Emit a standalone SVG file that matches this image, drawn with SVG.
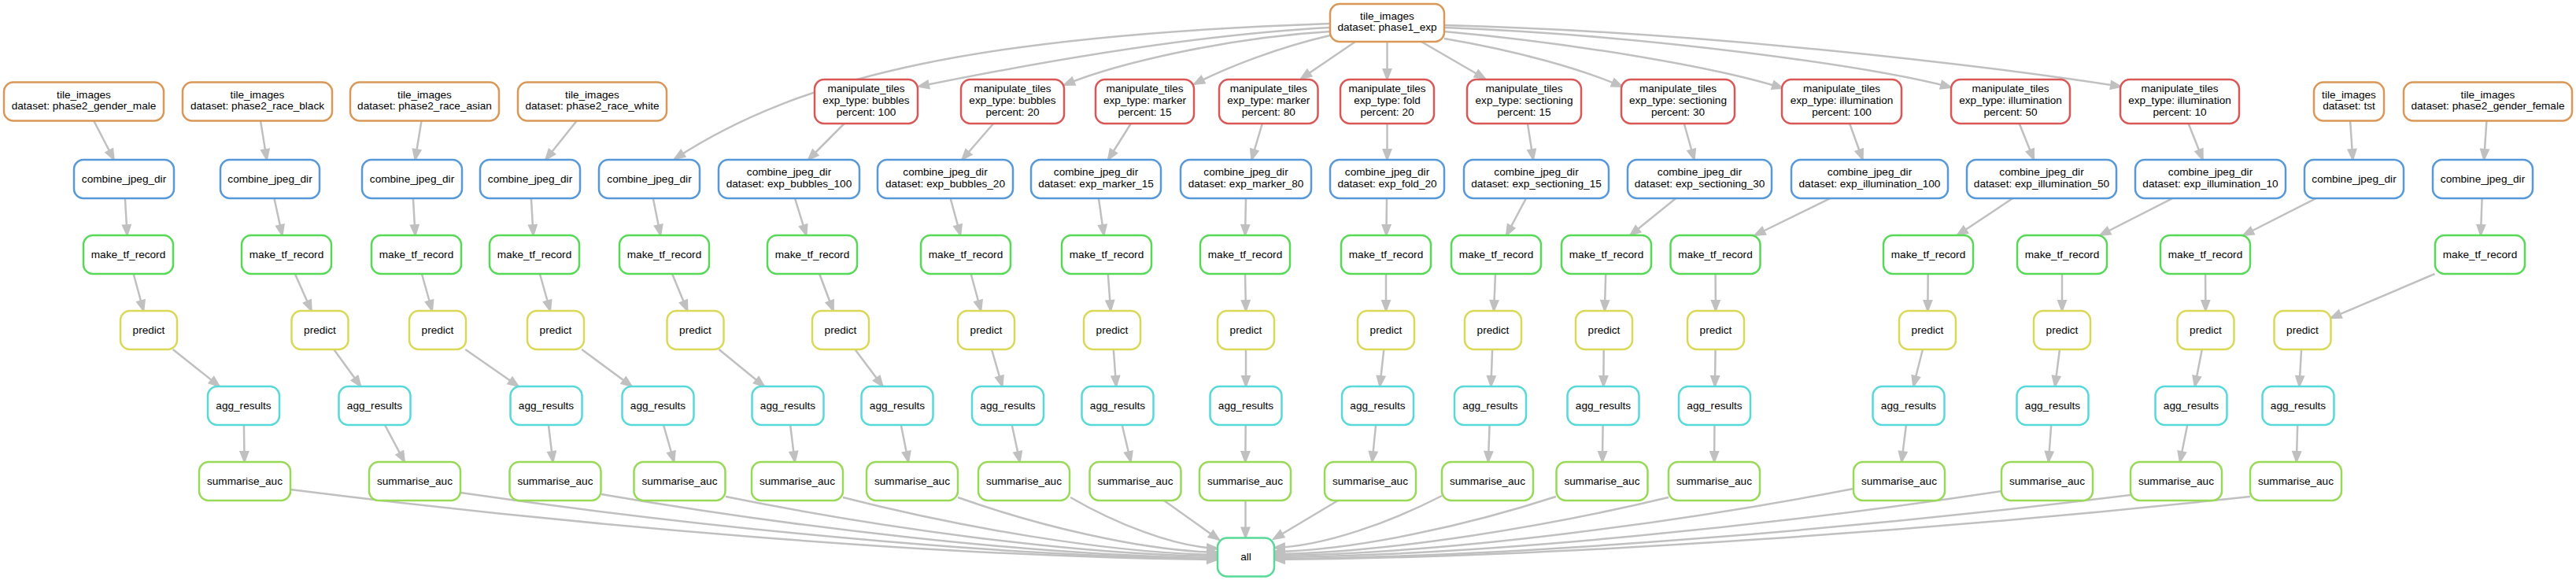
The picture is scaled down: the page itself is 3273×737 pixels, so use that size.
<svg xmlns="http://www.w3.org/2000/svg" width="3273" height="737" viewBox="0 0 3273 737">
<defs>
<style>
.n rect{fill:#fff;stroke-width:2.5}
text{font-family:"Liberation Sans",Arial,sans-serif;font-size:13.6px;text-anchor:middle;fill:#000}
.e path{fill:none;stroke:#c0c0c0;stroke-width:2.5;marker-end:url(#arr)}
.t rect{stroke:#d99857}
.m rect{stroke:#d95757}
.c rect{stroke:#5798d9}
.r rect{stroke:#57d957}
.p rect{stroke:#d9d957}
.g rect{stroke:#57d9d9}
.s rect{stroke:#98d957}
.z rect{stroke:#57d998}
</style>
<marker id="arr" markerUnits="userSpaceOnUse" markerWidth="16" markerHeight="12" refX="13" refY="5" orient="auto" overflow="visible">
<path d="M0,0 L13,5 L0,10 z" fill="#c0c0c0" stroke="#c0c0c0" stroke-width="2"/>
</marker>
</defs>
<rect width="3273" height="737" fill="#fff"/>
<g id="edges" class="e">
<path d="M1690,30 C1250,45 1020,95 857,202"/>
<path d="M1690,35 C1500,45 1290,85 1167,110"/>
<path d="M1690,40 C1560,48 1420,80 1352,108"/>
<path d="M1690,45 C1625,60 1560,85 1517,107"/>
<path d="M1722,53 L1653,100"/>
<path d="M1762.5,53 L1762.5,101"/>
<path d="M1806,53 L1887,100"/>
<path d="M1835,49 C1930,65 2010,88 2061,110"/>
<path d="M1835,40 C2000,55 2180,85 2265,112"/>
<path d="M1835,35 C2100,45 2380,85 2479,111"/>
<path d="M1835,32 C2150,40 2500,80 2695,110"/>
<path d="M119.2,153.5 L144.8,203"/>
<path d="M331,153.5 L339,203"/>
<path d="M535.5,153.5 L527.5,203"/>
<path d="M732.8,153.5 L693.2,203"/>
<path d="M1072.7,157 L1026.9,203"/>
<path d="M1262.2,157 L1222.3,203"/>
<path d="M1436.9,157 L1407.9,203"/>
<path d="M1603.8,157 L1590.2,203"/>
<path d="M1762.5,157 L1762.5,203"/>
<path d="M1940.9,157 L1948.1,203"/>
<path d="M2139.8,157 L2152.7,203"/>
<path d="M2350.1,157 L2366.7,203"/>
<path d="M2565.7,157 L2584.2,203"/>
<path d="M2780.6,157 L2798.8,203"/>
<path d="M2986.1,153.5 L2989.4,203"/>
<path d="M3159.4,153.5 L3156.1,203"/>
<path d="M158.9,252 L161.6,299"/>
<path d="M348.4,252 L358.6,299"/>
<path d="M524.9,252 L527.6,299"/>
<path d="M674.9,252 L677.6,299"/>
<path d="M829.8,252 L839.2,299"/>
<path d="M1010,252 L1024.5,299"/>
<path d="M1207.6,252 L1220.4,299"/>
<path d="M1395.9,252 L1402.6,299"/>
<path d="M1583,252 L1582,299"/>
<path d="M1762,252 L1761.4,299"/>
<path d="M1939,252 L1914,299"/>
<path d="M2129.3,252 L2071.2,299"/>
<path d="M2325.5,252 L2229.5,299"/>
<path d="M2557.3,252 L2486.7,299"/>
<path d="M2760.4,252 L2668.1,299"/>
<path d="M2942.8,252 L2850.2,299"/>
<path d="M3153.6,252 L3151.9,299"/>
<path d="M169.6,348 L182.4,395"/>
<path d="M374.8,348 L395.7,395"/>
<path d="M535.9,348 L549.1,395"/>
<path d="M685.9,348 L699.1,395"/>
<path d="M854.1,348 L873.4,395"/>
<path d="M1041.2,348 L1058.8,395"/>
<path d="M1233.6,348 L1246.4,395"/>
<path d="M1407.8,348 L1411.2,395"/>
<path d="M1582,348 L1583,395"/>
<path d="M1761,348 L1761,395"/>
<path d="M1900,348 L1898,395"/>
<path d="M2040.2,348 L2038.8,395"/>
<path d="M2179.6,348 L2179.9,395"/>
<path d="M2449.7,348 L2449.3,395"/>
<path d="M2620,348 L2620,395"/>
<path d="M2802.1,348 L2802.4,395"/>
<path d="M3093.5,348 L2961.5,404.2"/>
<path d="M219.7,444 L278.8,491"/>
<path d="M424.2,444 L458.3,491"/>
<path d="M591.2,444 L658.8,491"/>
<path d="M739.2,444 L802.8,491"/>
<path d="M913.5,444 L971,491"/>
<path d="M1086.4,444 L1121.6,491"/>
<path d="M1260,444 L1273.5,491"/>
<path d="M1414.8,444 L1418.2,491"/>
<path d="M1583,444 L1583,491"/>
<path d="M1758.3,444 L1753.2,491"/>
<path d="M1896.1,444 L1894.4,491"/>
<path d="M2037.7,444 L2037.3,491"/>
<path d="M2179.6,444 L2178.9,491"/>
<path d="M2442.9,444 L2431.1,491"/>
<path d="M2617,444 L2611,491"/>
<path d="M2797.8,444 L2788.7,491"/>
<path d="M2924.1,444 L2921.4,491"/>
<path d="M309.9,540 L310.6,587"/>
<path d="M489,540 L514,587"/>
<path d="M696.9,540 L702.6,587"/>
<path d="M843,540 L856.5,587"/>
<path d="M1004.1,540 L1009.9,587"/>
<path d="M1144.8,540 L1154.2,587"/>
<path d="M1285.7,540 L1295.8,587"/>
<path d="M1425.7,540 L1436.8,587"/>
<path d="M1582.7,540 L1582.3,587"/>
<path d="M1748.1,540 L1743.4,587"/>
<path d="M1892.6,540 L1890.9,587"/>
<path d="M2036.6,540 L2035.9,587"/>
<path d="M2178.4,540 L2178.1,587"/>
<path d="M2421.9,540 L2416.1,587"/>
<path d="M2606.2,540 L2602.8,587"/>
<path d="M2779.2,540 L2769.8,587"/>
<path d="M2919.2,540 L2917.8,587"/>
<path d="M369,622 C722,666.5 1194,708.3 1547,711"/>
<path d="M585,626 C873.6,668 1258.4,707.5 1547,710"/>
<path d="M764,628 C998.9,668.5 1312.1,706.6 1547,709"/>
<path d="M922,631 C1109.5,669 1359.5,704.7 1547,707"/>
<path d="M1071,632 C1213.8,668.5 1404.2,702.8 1547,705"/>
<path d="M1217,632 C1316,667 1448,699.9 1547,702"/>
<path d="M1360,632 C1416,664.5 1491,695 1547,697"/>
<path d="M1479,636 L1549,686"/>
<path d="M1582.5,636 L1582.5,683.5"/>
<path d="M1700,636 L1618,685"/>
<path d="M1832,630 C1768,663 1683,694 1619,696"/>
<path d="M1977,631 C1869.6,666 1726.4,698.9 1619,701"/>
<path d="M2120,632 C1969.7,668 1769.3,701.8 1619,704"/>
<path d="M2355,621 C2134.2,663.5 1839.8,703.5 1619,706"/>
<path d="M2543,624 C2265.8,666 1896.2,705.5 1619,708"/>
<path d="M2707,629 C2380.6,669.5 1945.4,707.6 1619,710"/>
<path d="M2859,631 C2487,671 1991,708.6 1619,711"/>
</g>
<g id="tile_phase1_exp" class="n t"><rect x="1690" y="5" width="145" height="48" rx="12"/><text x="1762.5" y="24.6">tile_images<tspan x="1762.5" dy="14.8">dataset: phase1_exp</tspan></text></g>
<g id="tile_phase2_gender_male" class="n t"><rect x="5" y="104.5" width="203" height="49" rx="12"/><text x="106.5" y="124.6">tile_images<tspan x="106.5" dy="14.8">dataset: phase2_gender_male</tspan></text></g>
<g id="tile_phase2_race_black" class="n t"><rect x="232" y="104.5" width="190" height="49" rx="12"/><text x="327" y="124.6">tile_images<tspan x="327" dy="14.8">dataset: phase2_race_black</tspan></text></g>
<g id="tile_phase2_race_asian" class="n t"><rect x="445" y="104.5" width="189" height="49" rx="12"/><text x="539.5" y="124.6">tile_images<tspan x="539.5" dy="14.8">dataset: phase2_race_asian</tspan></text></g>
<g id="tile_phase2_race_white" class="n t"><rect x="658" y="104.5" width="189" height="49" rx="12"/><text x="752.5" y="124.6">tile_images<tspan x="752.5" dy="14.8">dataset: phase2_race_white</tspan></text></g>
<g id="manip_bubbles_100" class="n m"><rect x="1035" y="101" width="131" height="56" rx="12"/><text x="1100.5" y="117.2">manipulate_tiles<tspan x="1100.5" dy="14.8">exp_type: bubbles</tspan><tspan x="1100.5" dy="14.8">percent: 100</tspan></text></g>
<g id="manip_bubbles_20" class="n m"><rect x="1221" y="101" width="131" height="56" rx="12"/><text x="1286.5" y="117.2">manipulate_tiles<tspan x="1286.5" dy="14.8">exp_type: bubbles</tspan><tspan x="1286.5" dy="14.8">percent: 20</tspan></text></g>
<g id="manip_marker_15" class="n m"><rect x="1392" y="101" width="125" height="56" rx="12"/><text x="1454.5" y="117.2">manipulate_tiles<tspan x="1454.5" dy="14.8">exp_type: marker</tspan><tspan x="1454.5" dy="14.8">percent: 15</tspan></text></g>
<g id="manip_marker_80" class="n m"><rect x="1549" y="101" width="125.5" height="56" rx="12"/><text x="1611.8" y="117.2">manipulate_tiles<tspan x="1611.8" dy="14.8">exp_type: marker</tspan><tspan x="1611.8" dy="14.8">percent: 80</tspan></text></g>
<g id="manip_fold_20" class="n m"><rect x="1703" y="101" width="119" height="56" rx="12"/><text x="1762.5" y="117.2">manipulate_tiles<tspan x="1762.5" dy="14.8">exp_type: fold</tspan><tspan x="1762.5" dy="14.8">percent: 20</tspan></text></g>
<g id="manip_sectioning_15" class="n m"><rect x="1864" y="101" width="145" height="56" rx="12"/><text x="1936.5" y="117.2">manipulate_tiles<tspan x="1936.5" dy="14.8">exp_type: sectioning</tspan><tspan x="1936.5" dy="14.8">percent: 15</tspan></text></g>
<g id="manip_sectioning_30" class="n m"><rect x="2060" y="101" width="144" height="56" rx="12"/><text x="2132" y="117.2">manipulate_tiles<tspan x="2132" dy="14.8">exp_type: sectioning</tspan><tspan x="2132" dy="14.8">percent: 30</tspan></text></g>
<g id="manip_illumination_100" class="n m"><rect x="2264" y="101" width="152" height="56" rx="12"/><text x="2340" y="117.2">manipulate_tiles<tspan x="2340" dy="14.8">exp_type: illumination</tspan><tspan x="2340" dy="14.8">percent: 100</tspan></text></g>
<g id="manip_illumination_50" class="n m"><rect x="2479" y="101" width="151" height="56" rx="12"/><text x="2554.5" y="117.2">manipulate_tiles<tspan x="2554.5" dy="14.8">exp_type: illumination</tspan><tspan x="2554.5" dy="14.8">percent: 50</tspan></text></g>
<g id="manip_illumination_10" class="n m"><rect x="2694" y="101" width="151" height="56" rx="12"/><text x="2769.5" y="117.2">manipulate_tiles<tspan x="2769.5" dy="14.8">exp_type: illumination</tspan><tspan x="2769.5" dy="14.8">percent: 10</tspan></text></g>
<g id="tile_tst" class="n t"><rect x="2940" y="104.5" width="89" height="49" rx="12"/><text x="2984.5" y="124.6">tile_images<tspan x="2984.5" dy="14.8">dataset: tst</tspan></text></g>
<g id="tile_phase2_gender_female" class="n t"><rect x="3054" y="104.5" width="214" height="49" rx="12"/><text x="3161" y="124.6">tile_images<tspan x="3161" dy="14.8">dataset: phase2_gender_female</tspan></text></g>
<g id="combine_1" class="n c"><rect x="94" y="203" width="127" height="49" rx="12"/><text x="157.5" y="231.5">combine_jpeg_dir</text></g>
<g id="combine_2" class="n c"><rect x="280" y="203" width="126" height="49" rx="12"/><text x="343" y="231.5">combine_jpeg_dir</text></g>
<g id="combine_3" class="n c"><rect x="460" y="203" width="127" height="49" rx="12"/><text x="523.5" y="231.5">combine_jpeg_dir</text></g>
<g id="combine_4" class="n c"><rect x="610" y="203" width="127" height="49" rx="12"/><text x="673.5" y="231.5">combine_jpeg_dir</text></g>
<g id="combine_5" class="n c"><rect x="761" y="203" width="128" height="49" rx="12"/><text x="825" y="231.5">combine_jpeg_dir</text></g>
<g id="combine_bubbles_100" class="n c"><rect x="913" y="203" width="179" height="49" rx="12"/><text x="1002.5" y="223.1">combine_jpeg_dir<tspan x="1002.5" dy="14.8">dataset: exp_bubbles_100</tspan></text></g>
<g id="combine_bubbles_20" class="n c"><rect x="1115" y="203" width="172" height="49" rx="12"/><text x="1201" y="223.1">combine_jpeg_dir<tspan x="1201" dy="14.8">dataset: exp_bubbles_20</tspan></text></g>
<g id="combine_marker_15" class="n c"><rect x="1310" y="203" width="165" height="49" rx="12"/><text x="1392.5" y="223.1">combine_jpeg_dir<tspan x="1392.5" dy="14.8">dataset: exp_marker_15</tspan></text></g>
<g id="combine_marker_80" class="n c"><rect x="1500" y="203" width="166" height="49" rx="12"/><text x="1583" y="223.1">combine_jpeg_dir<tspan x="1583" dy="14.8">dataset: exp_marker_80</tspan></text></g>
<g id="combine_fold_20" class="n c"><rect x="1690" y="203" width="145" height="49" rx="12"/><text x="1762.5" y="223.1">combine_jpeg_dir<tspan x="1762.5" dy="14.8">dataset: exp_fold_20</tspan></text></g>
<g id="combine_sectioning_15" class="n c"><rect x="1860" y="203" width="184" height="49" rx="12"/><text x="1952" y="223.1">combine_jpeg_dir<tspan x="1952" dy="14.8">dataset: exp_sectioning_15</tspan></text></g>
<g id="combine_sectioning_30" class="n c"><rect x="2068" y="203" width="183" height="49" rx="12"/><text x="2159.5" y="223.1">combine_jpeg_dir<tspan x="2159.5" dy="14.8">dataset: exp_sectioning_30</tspan></text></g>
<g id="combine_illumination_100" class="n c"><rect x="2276" y="203" width="199" height="49" rx="12"/><text x="2375.5" y="223.1">combine_jpeg_dir<tspan x="2375.5" dy="14.8">dataset: exp_illumination_100</tspan></text></g>
<g id="combine_illumination_50" class="n c"><rect x="2499" y="203" width="190" height="49" rx="12"/><text x="2594" y="223.1">combine_jpeg_dir<tspan x="2594" dy="14.8">dataset: exp_illumination_50</tspan></text></g>
<g id="combine_illumination_10" class="n c"><rect x="2713" y="203" width="191" height="49" rx="12"/><text x="2808.5" y="223.1">combine_jpeg_dir<tspan x="2808.5" dy="14.8">dataset: exp_illumination_10</tspan></text></g>
<g id="combine_16" class="n c"><rect x="2928" y="203" width="126" height="49" rx="12"/><text x="2991" y="231.5">combine_jpeg_dir</text></g>
<g id="combine_17" class="n c"><rect x="3091" y="203" width="127" height="49" rx="12"/><text x="3154.5" y="231.5">combine_jpeg_dir</text></g>
<g id="mtf_1" class="n r"><rect x="106" y="299" width="114" height="49" rx="12"/><text x="163" y="327.5">make_tf_record</text></g>
<g id="mtf_2" class="n r"><rect x="307" y="299" width="114" height="49" rx="12"/><text x="364" y="327.5">make_tf_record</text></g>
<g id="mtf_3" class="n r"><rect x="472" y="299" width="114" height="49" rx="12"/><text x="529" y="327.5">make_tf_record</text></g>
<g id="mtf_4" class="n r"><rect x="622" y="299" width="114" height="49" rx="12"/><text x="679" y="327.5">make_tf_record</text></g>
<g id="mtf_5" class="n r"><rect x="787" y="299" width="114" height="49" rx="12"/><text x="844" y="327.5">make_tf_record</text></g>
<g id="mtf_6" class="n r"><rect x="975" y="299" width="114" height="49" rx="12"/><text x="1032" y="327.5">make_tf_record</text></g>
<g id="mtf_7" class="n r"><rect x="1170" y="299" width="114" height="49" rx="12"/><text x="1227" y="327.5">make_tf_record</text></g>
<g id="mtf_8" class="n r"><rect x="1349" y="299" width="114" height="49" rx="12"/><text x="1406" y="327.5">make_tf_record</text></g>
<g id="mtf_9" class="n r"><rect x="1525" y="299" width="114" height="49" rx="12"/><text x="1582" y="327.5">make_tf_record</text></g>
<g id="mtf_10" class="n r"><rect x="1704" y="299" width="114" height="49" rx="12"/><text x="1761" y="327.5">make_tf_record</text></g>
<g id="mtf_11" class="n r"><rect x="1844" y="299" width="114" height="49" rx="12"/><text x="1901" y="327.5">make_tf_record</text></g>
<g id="mtf_12" class="n r"><rect x="1984" y="299" width="114" height="49" rx="12"/><text x="2041" y="327.5">make_tf_record</text></g>
<g id="mtf_13" class="n r"><rect x="2122.5" y="299" width="114" height="49" rx="12"/><text x="2179.5" y="327.5">make_tf_record</text></g>
<g id="mtf_14" class="n r"><rect x="2393" y="299" width="114" height="49" rx="12"/><text x="2450" y="327.5">make_tf_record</text></g>
<g id="mtf_15" class="n r"><rect x="2563" y="299" width="114" height="49" rx="12"/><text x="2620" y="327.5">make_tf_record</text></g>
<g id="mtf_16" class="n r"><rect x="2745" y="299" width="114" height="49" rx="12"/><text x="2802" y="327.5">make_tf_record</text></g>
<g id="mtf_17" class="n r"><rect x="3094" y="299" width="114" height="49" rx="12"/><text x="3151" y="327.5">make_tf_record</text></g>
<g id="predict_1" class="n p"><rect x="153" y="395" width="72" height="49" rx="12"/><text x="189" y="423.5">predict</text></g>
<g id="predict_2" class="n p"><rect x="370.5" y="395" width="72" height="49" rx="12"/><text x="406.5" y="423.5">predict</text></g>
<g id="predict_3" class="n p"><rect x="520" y="395" width="72" height="49" rx="12"/><text x="556" y="423.5">predict</text></g>
<g id="predict_4" class="n p"><rect x="670" y="395" width="72" height="49" rx="12"/><text x="706" y="423.5">predict</text></g>
<g id="predict_5" class="n p"><rect x="847.5" y="395" width="72" height="49" rx="12"/><text x="883.5" y="423.5">predict</text></g>
<g id="predict_6" class="n p"><rect x="1032" y="395" width="72" height="49" rx="12"/><text x="1068" y="423.5">predict</text></g>
<g id="predict_7" class="n p"><rect x="1217" y="395" width="72" height="49" rx="12"/><text x="1253" y="423.5">predict</text></g>
<g id="predict_8" class="n p"><rect x="1377" y="395" width="72" height="49" rx="12"/><text x="1413" y="423.5">predict</text></g>
<g id="predict_9" class="n p"><rect x="1547" y="395" width="72" height="49" rx="12"/><text x="1583" y="423.5">predict</text></g>
<g id="predict_10" class="n p"><rect x="1725" y="395" width="72" height="49" rx="12"/><text x="1761" y="423.5">predict</text></g>
<g id="predict_11" class="n p"><rect x="1861" y="395" width="72" height="49" rx="12"/><text x="1897" y="423.5">predict</text></g>
<g id="predict_12" class="n p"><rect x="2002" y="395" width="72" height="49" rx="12"/><text x="2038" y="423.5">predict</text></g>
<g id="predict_13" class="n p"><rect x="2144" y="395" width="72" height="49" rx="12"/><text x="2180" y="423.5">predict</text></g>
<g id="predict_14" class="n p"><rect x="2413" y="395" width="72" height="49" rx="12"/><text x="2449" y="423.5">predict</text></g>
<g id="predict_15" class="n p"><rect x="2584" y="395" width="72" height="49" rx="12"/><text x="2620" y="423.5">predict</text></g>
<g id="predict_16" class="n p"><rect x="2766.5" y="395" width="72" height="49" rx="12"/><text x="2802.5" y="423.5">predict</text></g>
<g id="predict_17" class="n p"><rect x="2889.5" y="395" width="72" height="49" rx="12"/><text x="2925.5" y="423.5">predict</text></g>
<g id="agg_1" class="n g"><rect x="264" y="491" width="91" height="49" rx="12"/><text x="309.5" y="519.5">agg_results</text></g>
<g id="agg_2" class="n g"><rect x="430.5" y="491" width="91" height="49" rx="12"/><text x="476" y="519.5">agg_results</text></g>
<g id="agg_3" class="n g"><rect x="648.5" y="491" width="91" height="49" rx="12"/><text x="694" y="519.5">agg_results</text></g>
<g id="agg_4" class="n g"><rect x="790.5" y="491" width="91" height="49" rx="12"/><text x="836" y="519.5">agg_results</text></g>
<g id="agg_5" class="n g"><rect x="955.5" y="491" width="91" height="49" rx="12"/><text x="1001" y="519.5">agg_results</text></g>
<g id="agg_6" class="n g"><rect x="1094.5" y="491" width="91" height="49" rx="12"/><text x="1140" y="519.5">agg_results</text></g>
<g id="agg_7" class="n g"><rect x="1235" y="491" width="91" height="49" rx="12"/><text x="1280.5" y="519.5">agg_results</text></g>
<g id="agg_8" class="n g"><rect x="1374.5" y="491" width="91" height="49" rx="12"/><text x="1420" y="519.5">agg_results</text></g>
<g id="agg_9" class="n g"><rect x="1537.5" y="491" width="91" height="49" rx="12"/><text x="1583" y="519.5">agg_results</text></g>
<g id="agg_10" class="n g"><rect x="1705" y="491" width="91" height="49" rx="12"/><text x="1750.5" y="519.5">agg_results</text></g>
<g id="agg_11" class="n g"><rect x="1848" y="491" width="91" height="49" rx="12"/><text x="1893.5" y="519.5">agg_results</text></g>
<g id="agg_12" class="n g"><rect x="1991.5" y="491" width="91" height="49" rx="12"/><text x="2037" y="519.5">agg_results</text></g>
<g id="agg_13" class="n g"><rect x="2133" y="491" width="91" height="49" rx="12"/><text x="2178.5" y="519.5">agg_results</text></g>
<g id="agg_14" class="n g"><rect x="2379.5" y="491" width="91" height="49" rx="12"/><text x="2425" y="519.5">agg_results</text></g>
<g id="agg_15" class="n g"><rect x="2562.5" y="491" width="91" height="49" rx="12"/><text x="2608" y="519.5">agg_results</text></g>
<g id="agg_16" class="n g"><rect x="2738.5" y="491" width="91" height="49" rx="12"/><text x="2784" y="519.5">agg_results</text></g>
<g id="agg_17" class="n g"><rect x="2874.5" y="491" width="91" height="49" rx="12"/><text x="2920" y="519.5">agg_results</text></g>
<g id="summ_1" class="n s"><rect x="253" y="587" width="116" height="49" rx="12"/><text x="311" y="615.5">summarise_auc</text></g>
<g id="summ_2" class="n s"><rect x="469" y="587" width="116" height="49" rx="12"/><text x="527" y="615.5">summarise_auc</text></g>
<g id="summ_3" class="n s"><rect x="647.5" y="587" width="116" height="49" rx="12"/><text x="705.5" y="615.5">summarise_auc</text></g>
<g id="summ_4" class="n s"><rect x="805.5" y="587" width="116" height="49" rx="12"/><text x="863.5" y="615.5">summarise_auc</text></g>
<g id="summ_5" class="n s"><rect x="955" y="587" width="116" height="49" rx="12"/><text x="1013" y="615.5">summarise_auc</text></g>
<g id="summ_6" class="n s"><rect x="1101" y="587" width="116" height="49" rx="12"/><text x="1159" y="615.5">summarise_auc</text></g>
<g id="summ_7" class="n s"><rect x="1243" y="587" width="116" height="49" rx="12"/><text x="1301" y="615.5">summarise_auc</text></g>
<g id="summ_8" class="n s"><rect x="1384.5" y="587" width="116" height="49" rx="12"/><text x="1442.5" y="615.5">summarise_auc</text></g>
<g id="summ_9" class="n s"><rect x="1524" y="587" width="116" height="49" rx="12"/><text x="1582" y="615.5">summarise_auc</text></g>
<g id="summ_10" class="n s"><rect x="1683" y="587" width="116" height="49" rx="12"/><text x="1741" y="615.5">summarise_auc</text></g>
<g id="summ_11" class="n s"><rect x="1832" y="587" width="116" height="49" rx="12"/><text x="1890" y="615.5">summarise_auc</text></g>
<g id="summ_12" class="n s"><rect x="1977.5" y="587" width="116" height="49" rx="12"/><text x="2035.5" y="615.5">summarise_auc</text></g>
<g id="summ_13" class="n s"><rect x="2120" y="587" width="116" height="49" rx="12"/><text x="2178" y="615.5">summarise_auc</text></g>
<g id="summ_14" class="n s"><rect x="2355" y="587" width="116" height="49" rx="12"/><text x="2413" y="615.5">summarise_auc</text></g>
<g id="summ_15" class="n s"><rect x="2543" y="587" width="116" height="49" rx="12"/><text x="2601" y="615.5">summarise_auc</text></g>
<g id="summ_16" class="n s"><rect x="2707" y="587" width="116" height="49" rx="12"/><text x="2765" y="615.5">summarise_auc</text></g>
<g id="summ_17" class="n s"><rect x="2859" y="587" width="116" height="49" rx="12"/><text x="2917" y="615.5">summarise_auc</text></g>
<g id="all" class="n z"><rect x="1547" y="683.5" width="72" height="49" rx="12"/><text x="1583" y="712">all</text></g>
</svg>
